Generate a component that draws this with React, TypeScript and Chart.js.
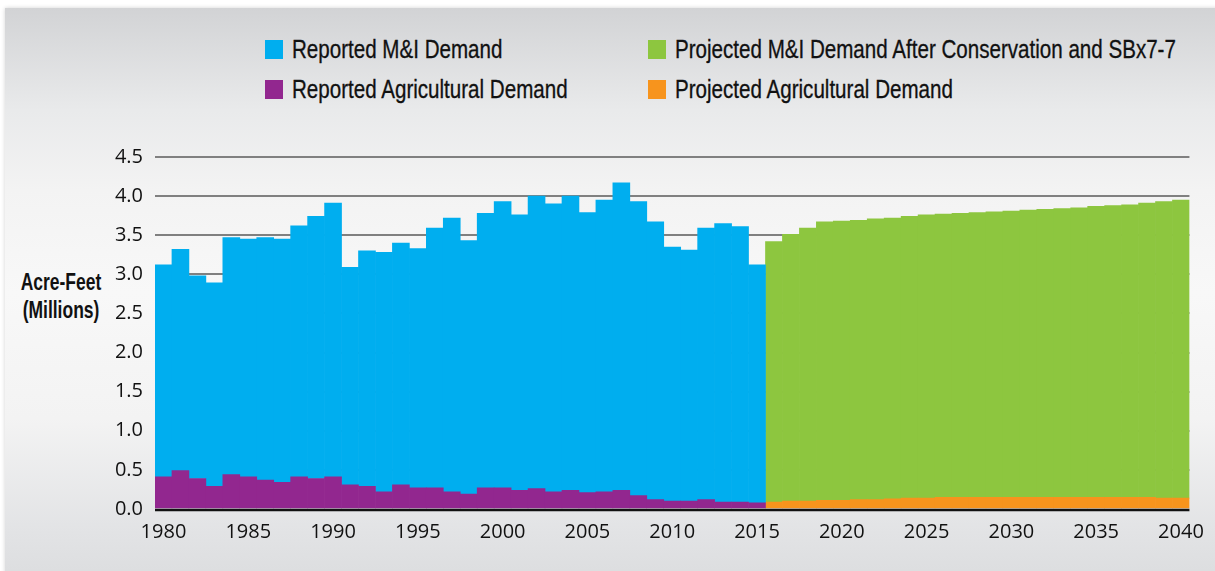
import React, { useEffect, useRef } from "react";
import { Chart, registerables } from "chart.js";

Chart.register(...registerables);

const years: string[] = [
  "1980", "1981", "1982", "1983", "1984", "1985", "1986", "1987", "1988", "1989",
  "1990", "1991", "1992", "1993", "1994", "1995", "1996", "1997", "1998", "1999",
  "2000", "2001", "2002", "2003", "2004", "2005", "2006", "2007", "2008", "2009",
  "2010", "2011", "2012", "2013", "2014", "2015", "2016", "2017", "2018", "2019",
  "2020", "2021", "2022", "2023", "2024", "2025", "2026", "2027", "2028", "2029",
  "2030", "2031", "2032", "2033", "2034", "2035", "2036", "2037", "2038", "2039",
  "2040",
];

const xTickLabels: string[] = ["1980", "1985", "1990", "1995", "2000", "2005", "2010", "2015", "2020", "2025", "2030", "2035", "2040"];
const yTickValues: number[] = [0, 0.5, 1.0, 1.5, 2.0, 2.5, 3.0, 3.5, 4.0, 4.5];

// Reported 1980–2015 (millions of acre-feet)
const reportedAg: number[] = [
  0.41, 0.49, 0.39, 0.29, 0.44, 0.41, 0.37, 0.34, 0.41, 0.39,
  0.41, 0.31, 0.29, 0.22, 0.31, 0.27, 0.27, 0.22, 0.19, 0.27,
  0.27, 0.24, 0.26, 0.22, 0.24, 0.21, 0.22, 0.24, 0.17, 0.12,
  0.10, 0.10, 0.12, 0.09, 0.09, 0.08,
];
const reportedMI: number[] = [
  2.71, 2.83, 2.59, 2.60, 3.03, 3.04, 3.10, 3.11, 3.21, 3.35,
  3.50, 2.78, 3.01, 3.06, 3.09, 3.06, 3.32, 3.50, 3.24, 3.51,
  3.66, 3.52, 3.74, 3.68, 3.76, 3.58, 3.73, 3.93, 3.76, 3.55,
  3.25, 3.21, 3.47, 3.56, 3.52, 3.04,
];

// Projected 2016–2040
const projectedAg: number[] = [
  0.09, 0.10, 0.10, 0.11, 0.11, 0.12, 0.12, 0.13, 0.14, 0.14,
  0.15, 0.15, 0.15, 0.15, 0.15, 0.15, 0.15, 0.15, 0.15, 0.15,
  0.15, 0.15, 0.15, 0.14, 0.14,
];
const projectedMI: number[] = [
  3.33, 3.41, 3.49, 3.56, 3.57, 3.57, 3.59, 3.59, 3.60, 3.62,
  3.62, 3.63, 3.64, 3.65, 3.66, 3.67, 3.68, 3.69, 3.70, 3.72,
  3.73, 3.74, 3.76, 3.79, 3.81,
];

const COLORS = {
  reportedMI: "#00aeef",
  reportedAg: "#92278f",
  projectedMI: "#8dc63f",
  projectedAg: "#f7941d",
};

const legendItems = [
  { label: "Reported M&I Demand", color: COLORS.reportedMI, left: 265, top: 38 },
  { label: "Projected M&I Demand After Conservation and SBx7-7", color: COLORS.projectedMI, left: 648, top: 38 },
  { label: "Reported Agricultural Demand", color: COLORS.reportedAg, left: 265, top: 78 },
  { label: "Projected Agricultural Demand", color: COLORS.projectedAg, left: 648, top: 78 },
];

const textFont = '"Liberation Sans", Arial, sans-serif';
const tickFont = '"Open Sans", "Liberation Sans", sans-serif';

export default function App() {
  const canvasRef = useRef<HTMLCanvasElement | null>(null);

  useEffect(() => {
    const canvas = canvasRef.current;
    if (!canvas) return;
    const nReported = reportedMI.length;
    const nProjected = projectedMI.length;
    const padReported = new Array(nProjected).fill(null);
    const padProjected = new Array(nReported).fill(null);

    const baseLine = {
      id: "baseLine",
      afterDatasetsDraw(chart: any) {
        const { ctx, chartArea, scales } = chart;
        const y = scales.y.getPixelForValue(0) + 1;
        ctx.save();
        ctx.strokeStyle = "#111111";
        ctx.lineWidth = 2.5;
        ctx.beginPath();
        ctx.moveTo(chartArea.left, y);
        ctx.lineTo(chartArea.right, y);
        ctx.stroke();
        ctx.restore();
      },
    };

    const chart = new Chart(canvas, {
      type: "bar",
      data: {
        labels: years,
        datasets: [
          { label: "Reported Agricultural Demand", data: [...reportedAg, ...padReported], backgroundColor: COLORS.reportedAg, stack: "s" },
          { label: "Reported M&I Demand", data: [...reportedMI, ...padReported], backgroundColor: COLORS.reportedMI, stack: "s" },
          { label: "Projected Agricultural Demand", data: [...padProjected, ...projectedAg], backgroundColor: COLORS.projectedAg, stack: "s" },
          { label: "Projected M&I Demand After Conservation and SBx7-7", data: [...padProjected, ...projectedMI], backgroundColor: COLORS.projectedMI, stack: "s" },
        ],
      },
      options: {
        animation: false,
        responsive: false,
        maintainAspectRatio: false,
        datasets: { bar: { categoryPercentage: 1, barPercentage: 1, borderWidth: 0, borderSkipped: false } },
        layout: { padding: { top: 157, right: 21, bottom: 22, left: 0 } },
        plugins: { legend: { display: false }, tooltip: { enabled: false }, title: { display: false } },
        scales: {
          x: {
            stacked: true,
            grid: { display: false, drawTicks: false },
            border: { display: false },
            afterFit(scale: any) { scale.height = 40; },
            ticks: {
              autoSkip: false,
              maxRotation: 0,
              minRotation: 0,
              padding: 11,
              color: "#111111",
              font: { family: tickFont, size: 20 },
              callback(_v: any, i: number) {
                const y = years[i];
                return xTickLabels.includes(y) ? y : "";
              },
            },
          },
          y: {
            stacked: true,
            min: 0,
            max: 4.5,
            afterFit(scale: any) { scale.width = 155; },
            afterBuildTicks(scale: any) { scale.ticks = yTickValues.map((v) => ({ value: v })); },
            grid: {
              drawTicks: false,
              lineWidth: 2,
              color: (c: any) => (c.tick && c.tick.value === 0 ? "rgba(0,0,0,0)" : "#808080"),
            },
            border: { display: false },
            ticks: {
              padding: 12,
              color: "#111111",
              font: { family: tickFont, size: 20 },
              callback: (v: any) => Number(v).toFixed(1),
            },
          },
        },
      },
      plugins: [baseLine],
    });
    return () => chart.destroy();
  }, []);

  return (
    <div style={{ position: "absolute", left: 0, top: 0, width: 1215, height: 571, overflow: "hidden", background: "#ffffff" }}>
      <div
        style={{
          position: "absolute",
          left: 5,
          top: 8,
          width: 1215,
          height: 570,
          background: "linear-gradient(to bottom, #d2d3d5 0%, #e9eaeb 18%, #f3f3f3 32%, #f8f8f8 50%, #f3f3f3 72%, #e2e3e5 92%, #dcdddf 100%)",
          boxShadow: "0 0 4px rgba(0,0,0,0.18)",
        }}
      />
      {legendItems.map((it) => (
        <div key={it.label} style={{ position: "absolute", left: it.left, top: it.top, height: 22, display: "flex", alignItems: "center" }}>
          <div style={{ width: 18, height: 19, background: it.color, marginRight: 9, flex: "none" }} />
          <span
            style={{
              display: "inline-block",
              fontFamily: textFont,
              fontSize: 25,
              color: "#111111",
              whiteSpace: "nowrap",
              lineHeight: "22px",
              transform: "scaleX(0.823)",
              transformOrigin: "left center",
              WebkitTextStroke: "0.3px #111111",
            }}
          >
            {it.label}
          </span>
        </div>
      ))}
      {["Acre-Feet", "(Millions)"].map((t, i) => (
        <div
          key={t}
          style={{
            position: "absolute",
            left: 0,
            top: 268 + i * 28,
            width: 122,
            textAlign: "center",
            fontFamily: textFont,
            fontWeight: "bold",
            fontSize: 23,
            lineHeight: "28px",
            color: "#111111",
            whiteSpace: "nowrap",
            transform: "scaleX(0.76)",
            transformOrigin: "center center",
          }}
        >
          {t}
        </div>
      ))}
      <canvas ref={canvasRef} width={1215} height={571} style={{ position: "absolute", left: 0, top: 0, width: 1215, height: 571 }} />
    </div>
  );
}
